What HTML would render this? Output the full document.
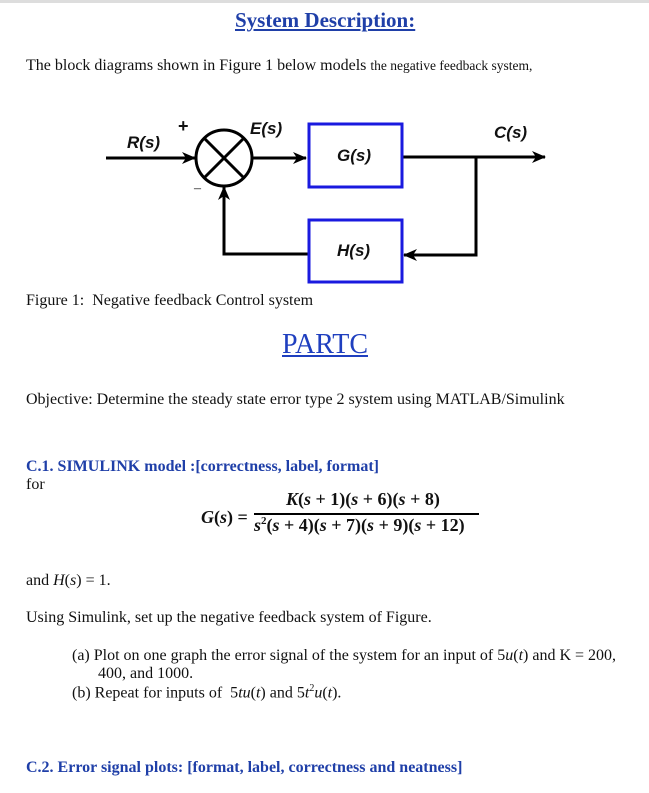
<!DOCTYPE html>
<html><head><meta charset="utf-8"><style>
body{margin:0;width:649px;height:793px;background:#fff;position:relative;overflow:hidden;font-family:"Liberation Serif",serif;color:#111}
.t{position:absolute;white-space:nowrap}
.b{color:#1f3fa8;font-weight:bold}
.s{font-family:"Liberation Sans",sans-serif;font-weight:bold;font-style:italic;font-size:17px}
.m{font-family:"Liberation Serif",serif;font-weight:bold;font-size:18px}
</style></head><body>
<div style="position:absolute;left:0;top:0;width:649px;height:3px;background:#ddd"></div>
<div class="t b" style="left:235px;top:8px;font-size:21px;text-decoration:underline">System Description:</div>
<div class="t" style="left:26px;top:57px;font-size:16px">The block diagrams shown in Figure 1 below models <span style="font-size:13.5px">the negative feedback system,</span></div>
<svg style="position:absolute;left:0;top:0" width="649" height="300">
<defs><marker id="a" markerWidth="14" markerHeight="12" refX="13" refY="6" orient="auto" markerUnits="userSpaceOnUse"><path d="M0,0 L14,6 L0,12 L4,6z" fill="#000"/></marker></defs>
<g stroke="#000" stroke-width="3" fill="none">
<line x1="106" y1="158" x2="195" y2="158" marker-end="url(#a)"/>
<circle cx="224" cy="158" r="28"/>
<line x1="204" y1="138" x2="244" y2="178"/><line x1="244" y1="138" x2="204" y2="178"/>
<line x1="252" y1="158" x2="306" y2="158" marker-end="url(#a)"/>
<line x1="402" y1="157" x2="545" y2="157" marker-end="url(#a)"/>
<polyline points="476,157 476,255 404,255" marker-end="url(#a)"/>
<polyline points="308,254 224,254 224,187" marker-end="url(#a)"/>
</g>
<rect x="309" y="124" width="93" height="63" fill="none" stroke="#1a1adf" stroke-width="3"/>
<rect x="309" y="220" width="93" height="62" fill="none" stroke="#1a1adf" stroke-width="3"/>
</svg>
<div class="t s" style="left:127px;top:133px">R(s)</div>
<div class="t s" style="left:250px;top:119px">E(s)</div>
<div class="t s" style="left:337px;top:146px">G(s)</div>
<div class="t s" style="left:337px;top:241px">H(s)</div>
<div class="t s" style="left:494px;top:123px">C(s)</div>
<div class="t" style="left:178px;top:116px;font-family:'Liberation Sans',sans-serif;font-weight:bold;font-size:18px">+</div>
<div class="t" style="left:194px;top:181px;font-size:14px">–</div>
<div class="t" style="left:26px;top:292px;font-size:16px">Figure 1:&nbsp; Negative feedback Control system</div>
<div class="t b" style="left:282px;top:329px;font-size:28px;font-weight:normal;color:#1f3fbf;text-decoration:underline">PARTC</div>
<div class="t" style="left:26px;top:391px;font-size:16px">Objective: Determine the steady state error type 2 system using MATLAB/Simulink</div>
<div class="t b" style="left:26px;top:458px;font-size:16px">C.1. SIMULINK model :[correctness, label, format]</div>
<div class="t" style="left:26px;top:476px;font-size:16px">for</div>
<div class="t m" style="left:201px;top:507px"><i>G</i>(<i>s</i>) =</div>
<div class="t m" style="left:286px;top:489px"><i>K</i>(<i>s</i> + 1)(<i>s</i> + 6)(<i>s</i> + 8)</div>
<div style="position:absolute;left:254px;top:513px;width:225px;height:2px;background:#000"></div>
<div class="t m" style="left:254px;top:515px"><i>s</i><sup style="font-size:11px">2</sup>(<i>s</i> + 4)(<i>s</i> + 7)(<i>s</i> + 9)(<i>s</i> + 12)</div>
<div class="t" style="left:26px;top:572px;font-size:16px">and <i>H</i>(<i>s</i>) = 1.</div>
<div class="t" style="left:26px;top:609px;font-size:16px">Using Simulink, set up the negative feedback system of Figure.</div>
<div class="t" style="left:72px;top:647px;font-size:16px">(a) Plot on one graph the error signal of the system for an input of 5<i>u</i>(<i>t</i>) and K = 200,</div>
<div class="t" style="left:98px;top:665px;font-size:16px">400, and 1000.</div>
<div class="t" style="left:72px;top:683px;font-size:16px">(b) Repeat for inputs of &nbsp;5<i>tu</i>(<i>t</i>) and 5<i>t</i><sup style="font-size:10px">2</sup><i>u</i>(<i>t</i>).</div>
<div class="t b" style="left:26px;top:759px;font-size:16px">C.2. Error signal plots: [format, label, correctness and neatness]</div>
</body></html>
